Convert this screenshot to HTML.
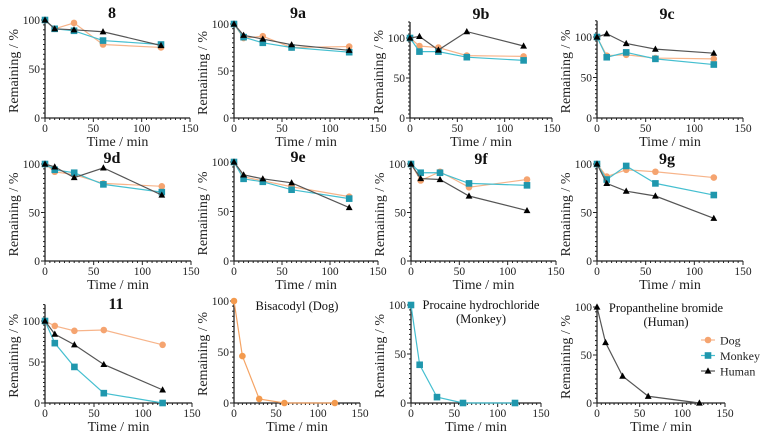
<!DOCTYPE html>
<html><head><meta charset="utf-8">
<style>
html,body{margin:0;padding:0;background:#fff;}
svg{display:block;}
svg text{font-family:"Liberation Serif","DejaVu Serif",serif;}
</style></head>
<body>
<svg id="chart" width="761" height="437" viewBox="0 0 761 437" font-family="Liberation Serif, serif"></svg>
<script>
const times = [0, 10, 30, 60, 120];
const panelTitles = ["8","9a","9b","9c","9d","9e","9f","9g","11","Bisacodyl (Dog)","Procaine hydrochloride|(Monkey)","Propantheline bromide|(Human)"];
const dogValues = [
  [100,91,97,75,72],[100,85,87,75,76],[100,90,88,78,77],[100,77,78,74,73],
  [100,92,89,80,77],[100,85,81,75,65],[100,83,92,76,84],[100,87,94,92,86],
  [100,94,88,89,71],[100,46,4,0,0],null,null];
const monkeyValues = [
  [100,91,89,79,75],[100,86,80,75,70],[100,83,83,76,72],[100,75,81,73,66],
  [100,94,91,79,71],[100,83,80,72,63],[100,91,91,80,78],[100,84,98,80,68],
  [100,73,44,12,0],null,[100,39,6,0,0],null];
const humanValues = [
  [100,91,90,88,74],[100,88,84,78,72],[100,102,85,108,90],[100,104,92,85,80],
  [100,97,86,96,68],[100,87,83,79,54],[100,85,84,67,52],[100,80,72,67,44],
  [100,84,71,47,16],null,null,[100,63,28,7,0]];
const xTicks = [0,50,100,150];
const yTicks = [0,50,100];
const legendLabels = ["Dog","Monkey","Human"];

const layout = [
  [45,190,118,20,100],[234,378,118,24,100],[410,552,118,38,120],[597,743,118,37,120],
  [45,191,261,164,100],[234,378,261,162,100],[411,556,261,164,100],[597,743,261,164,100],
  [45,192,403,321,120],[234,360,403,301,100],[411,541,403,305,100],[597,725,403,307,100]];
const titlePos = [[112,18,true],[298,18,true],[481,19,true],[667,19,true],
  [112,163,true],[298,162,true],[481,164,true],[667,164,true],
  [116,309,true],[297,310,false],[481,309,false],[666,312,false]];

const NS = "http://www.w3.org/2000/svg";
const FONT = "Liberation Serif, DejaVu Serif, serif";
const svg = document.getElementById("chart");
function mk(tag, attrs, parent){
  const e = document.createElementNS(NS, tag);
  for (const k in attrs) e.setAttribute(k, attrs[k]);
  if (tag === "text") e.setAttribute("font-family", FONT);
  (parent||svg).appendChild(e);
  return e;
}
const colors = {
  dog:{line:"#f7b48a", fill:"#f5a470"},
  monkey:{line:"#45bfd0", fill:"#1f97ad"},
  human:{line:"#555", fill:"#000"}
};
function marker(g, kind, x, y, fill){
  let m;
  if (kind==="dog") m = mk("circle",{cx:x,cy:y,r:3.3,fill:fill},g);
  else if (kind==="monkey") m = mk("rect",{x:x-3.3,y:y-3.3,width:6.6,height:6.6,fill:fill},g);
  else m = mk("polygon",{points:`${x},${y-3.6} ${x+3.4},${y+2.6} ${x-3.4},${y+2.6}`,fill:fill},g);
  return m;
}

layout.forEach((L, i) => {
  const [x0, x150, y0, y100, ymax] = L;
  const sx = t => x0 + (x150 - x0) * t / 150;
  const sy = v => y0 - (y0 - y100) * v / 100;
  const g = mk("g", {});
  
  
  const ax = mk("g", {stroke:"#222","stroke-width":1.3}, g);
  
  
  mk("line",{x1:x0,y1:y0,x2:x150,y2:y0},ax);
  mk("line",{x1:x0,y1:y0,x2:x0,y2:sy(ymax)},ax);
  for (let t=0;t<=150;t+=5){
    const major = t%50===0;
    mk("line",{x1:sx(t),y1:y0,x2:sx(t),y2:y0+(major?4:2),"stroke-width":1},ax);
  }
  for (let v=0;v<=ymax;v+=5){
    const major = v%50===0;
    mk("line",{x1:x0,y1:sy(v),x2:x0-(major?4:2),y2:sy(v),"stroke-width":1},ax);
  }
  xTicks.forEach(t=>{
    const tx = mk("text",{x:sx(t),y:y0+14,"font-size":11.5,"text-anchor":"middle",fill:"#222"},g);
    tx.textContent = t;
    
    
  });
  yTicks.forEach(v=>{
    const tx = mk("text",{x:x0-5,y:sy(v)+4,"font-size":11.5,"text-anchor":"end",fill:"#222"},g);
    tx.textContent = v;
    
    
  });
  const xt = mk("text",{x:(x0+x150)/2,y:y0+28,"font-size":14,"text-anchor":"middle",fill:"#222"},g);
  xt.textContent = "Time / min";
  
  
  const yc = (y0 + sy(ymax))/2 + 2;
  const yt = mk("text",{x:0,y:0,"font-size":14,"text-anchor":"middle",fill:"#222",transform:`translate(${x0-27},${yc}) rotate(-90)`},g);
  yt.textContent = "Remaining / %";
  
  
  const [tx, ty, bold] = titlePos[i];
  const lines = panelTitles[i].split("|");
  lines.forEach((ln, k)=>{
    const te = mk("text",{x:tx,y:ty+k*14,"font-size":bold?16:12.5,"font-weight":bold?"bold":"normal","text-anchor":"middle",fill:"#111"},g);
    te.textContent = ln;
    
    
  });
  [["dog",dogValues[i]],["monkey",monkeyValues[i]],["human",humanValues[i]]].forEach(([kind, vals])=>{
    if (!vals) return;
    const sg = mk("g",{},g);
    
    
    let fill = colors[kind].fill, lc = colors[kind].line;
    if (i===9){ fill="#f39a4e"; lc="#f5a465"; }
    const pts = vals.map((v,k)=>`${sx(times[k])},${sy(v)}`).join(" ");
    const pl = mk("polyline",{points:pts,fill:"none",stroke:lc,"stroke-width":1.2},sg);
    
    
    vals.forEach((v,k)=>{
      const m = marker(sg, kind, sx(times[k]), sy(v), fill);
      
      
    });
  });
});

const lg = mk("g",{});


["dog","monkey","human"].forEach((kind,k)=>{
  const y = 340 + k*15.5;
  const eg = mk("g",{},lg);
  
  
  mk("line",{x1:701,y1:y,x2:715,y2:y,stroke:colors[kind].line,"stroke-width":1.2},eg);
  marker(eg, kind, 708, y, colors[kind].fill);
  const t = mk("text",{x:720,y:y+4.5,"font-size":12,fill:"#222"},eg);
  t.textContent = legendLabels[k];
});
</script>
</body></html>
